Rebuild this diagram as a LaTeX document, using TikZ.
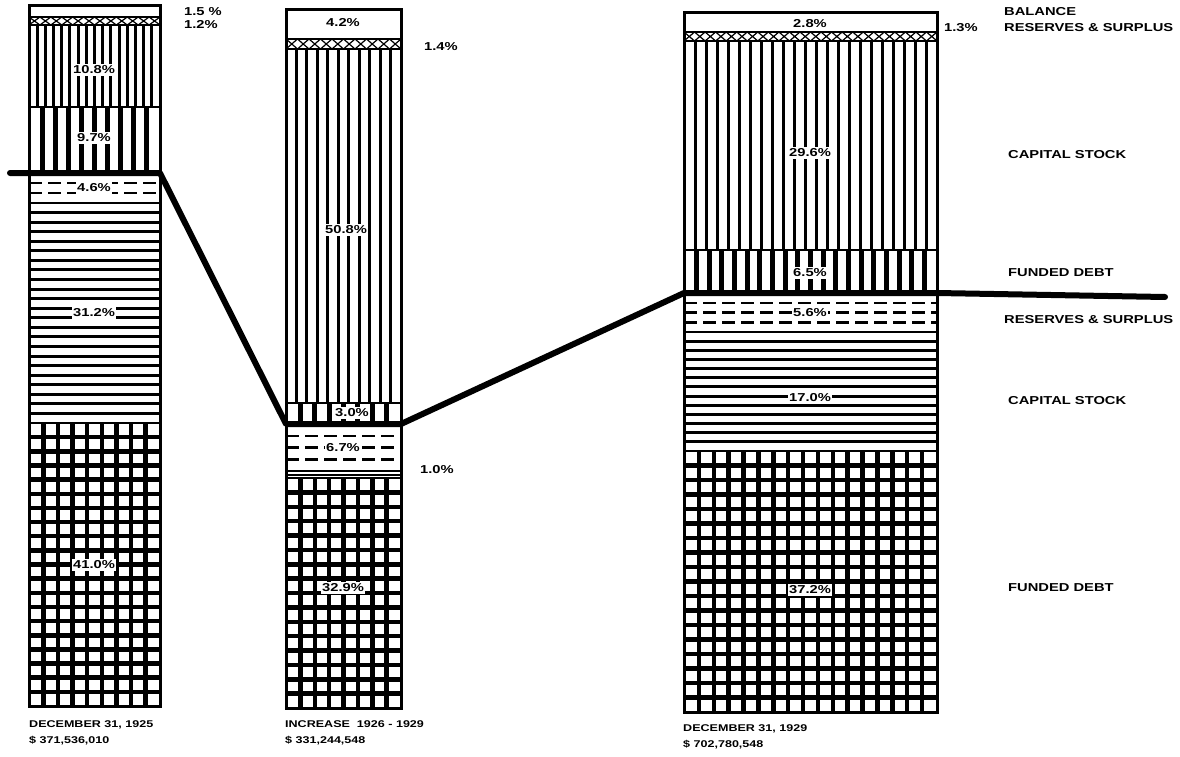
\documentclass[tikz,border=0pt]{standalone}
\usepackage{fontspec}
\setmainfont{Liberation Sans}
\newfontfamily\widefont[FakeStretch=1.28]{Liberation Sans}
\usetikzlibrary{positioning}
\tikzset{pct/.style={fill=white,inner sep=1.5pt,font=\widefont\bfseries\fontsize{11.5}{11.5}\selectfont},
  side/.style={anchor=west,inner sep=0pt,font=\widefont\bfseries\fontsize{11.5}{11.5}\selectfont},
  foot/.style={anchor=north west,inner sep=0pt,align=left,font=\widefont\bfseries\fontsize{9.8}{16}\selectfont},
  frame/.style={draw,line width=3pt},
  sep/.style={line width=2pt},
  link/.style={line width=6pt,line cap=round,line join=round},
  dsh/.style={dash pattern=on 13pt off 6pt}}

% x0 x1 y0 y1 n width
\newcommand{\vlines}[6]{%
  \foreach \i in {1,...,#5}
    \draw[line width=#6] ({#1+\i*(#2-#1)/(#5+1)},#3) -- ({#1+\i*(#2-#1)/(#5+1)},#4);}
\newcommand{\hlines}[7][]{%
  \foreach \i in {1,...,#6}
    \draw[#1,line width=#7] (#2,{#4+\i*(#5-#4)/(#6+1)}) -- (#3,{#4+\i*(#5-#4)/(#6+1)});}
\newcommand{\xband}[5]{%
  \draw[line width=1.5pt] (#1,#3) -- (#2,#3) (#1,#4) -- (#2,#4);
  \foreach \i in {1,...,#5}
    \draw[line width=1.2pt] ({#1+(\i-1)*(#2-#1)/#5},#3) -- ({#1+\i*(#2-#1)/#5},#4)
      ({#1+(\i-1)*(#2-#1)/#5},#4) -- ({#1+\i*(#2-#1)/#5},#3);}

\begin{document}
\begin{tikzpicture}[x=1pt,y=-1pt]
\useasboundingbox (0,0) rectangle (1180,757);

% December 31, 1925
\xband{29}{160}{17}{25}{12}
\vlines{29}{160}{25}{107}{15}{3pt}
\vlines{29}{160}{107}{173}{9}{5pt}
\hlines[dsh]{29}{160}{173}{203}{2}{2.5pt}
\hlines{29}{160}{203}{423}{22}{3pt}
\vlines{29}{160}{423}{706}{8}{4.5pt}
\hlines{29}{160}{423}{706}{19}{4.5pt}
\draw[sep] (29,107) -- (160,107) (29,203) -- (160,203) (29,423) -- (160,423);
\draw[frame] (29,6) rectangle (160,706);
\node[pct] (a1) at (94,70) {10.8\%};
\node[pct] (a2) at (94,138) {9.7\%};
\node[pct] (a3) at (94,188) {4.6\%};
\node[pct] (a4) at (94,313) {31.2\%};
\node[pct] (a5) at (94,565) {41.0\%};
\node[side] (a6) at (184,12) {1.5 \%};
\node[side] (a7) at (184,25) {1.2\%};
\node[foot] (a8) at (29,720) {DECEMBER 31, 1925\\\$ 371,536,010};

% increase 1926 - 1929
\xband{286}{401}{39}{49}{10}
\vlines{286}{401}{49}{403}{10}{3pt}
\vlines{286}{401}{403}{424}{7}{5pt}
\hlines[dsh]{286}{401}{424}{471}{3}{2.5pt}
\hlines{286}{401}{471}{478}{1}{2pt}
\vlines{286}{401}{478}{708}{7}{4.5pt}
\hlines{286}{401}{478}{708}{15}{4.5pt}
\draw[sep] (286,39) -- (401,39) (286,403) -- (401,403) (286,471) -- (401,471) (286,478) -- (401,478);
\draw[frame] (286,10) rectangle (401,708);
\node[pct] (b1) at (343,23) {4.2\%};
\node[pct] (b2) at (346,230) {50.8\%};
\node[pct] (b3) at (352,413) {3.0\%};
\node[pct] (b4) at (343,448) {6.7\%};
\node[pct] (b5) at (343,588) {32.9\%};
\node[side] (b6) at (424,47) {1.4\%};
\node[side] (b7) at (420,470) {1.0\%};
\node[foot] (b8) at (285,720) {INCREASE\ \ 1926 - 1929\\\$ 331,244,548};

% December 31, 1929
\xband{684}{937}{32}{41}{24}
\vlines{684}{937}{41}{250}{22}{3pt}
\vlines{684}{937}{250}{293}{19}{5pt}
\hlines[dsh]{684}{937}{293}{332}{3}{2.5pt}
\hlines{684}{937}{332}{451}{12}{3pt}
\vlines{684}{937}{451}{712}{16}{4.5pt}
\hlines{684}{937}{451}{712}{17}{4.5pt}
\draw[sep] (684,250) -- (937,250) (684,332) -- (937,332) (684,451) -- (937,451);
\draw[frame] (684,13) rectangle (937,712);
\node[pct] (c1) at (810,24) {2.8\%};
\node[pct] (c2) at (810,153) {29.6\%};
\node[pct] (c3) at (810,273) {6.5\%};
\node[pct] (c4) at (810,313) {5.6\%};
\node[pct] (c5) at (810,398) {17.0\%};
\node[pct] (c6) at (810,590) {37.2\%};
\node[side] (c7) at (944,28) {1.3\%};
\node[side] (c8) at (1004,12) {BALANCE};
\node[side] (c9) at (1004,28) {RESERVES \& SURPLUS};
\node[side] (c10) at (1008,155) {CAPITAL STOCK};
\node[side] (c11) at (1008,273) {FUNDED DEBT};
\node[side] (c12) at (1004,320) {RESERVES \& SURPLUS};
\node[side] (c13) at (1008,401) {CAPITAL STOCK};
\node[side] (c14) at (1008,588) {FUNDED DEBT};
\node[foot] (c15) at (683,724) {DECEMBER 31, 1929\\\$ 702,780,548};

% owned / borrowed division
\coordinate (p0) at (10,173);
\coordinate (p1) at (160,173);
\coordinate (p2) at (286,424);
\coordinate (p3) at (401,424);
\coordinate (p4) at (684,293);
\coordinate (p5) at (937,293);
\coordinate (p6) at (1165,297);
\draw[link] (p0) -- (p1) -- (p2) -- (p3) -- (p4) -- (p5) -- (p6);
\end{tikzpicture}
\end{document}
